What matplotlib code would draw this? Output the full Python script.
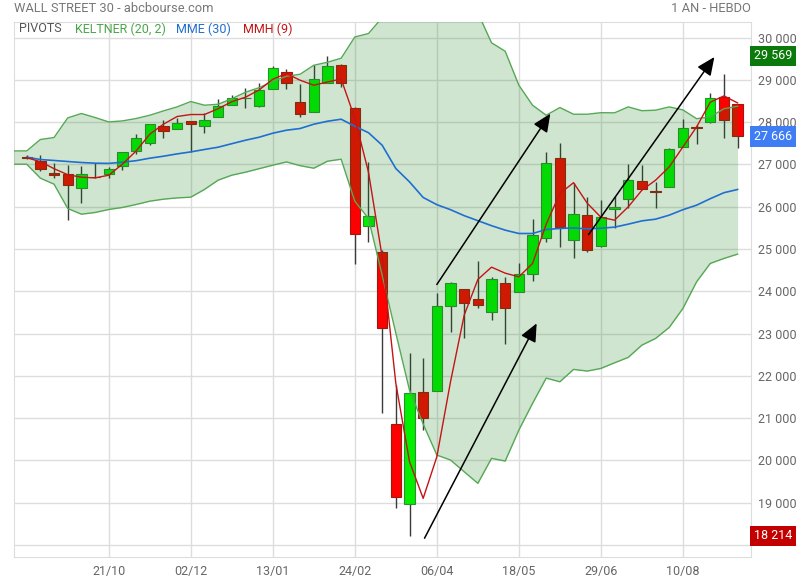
import matplotlib
matplotlib.use("Agg")
import matplotlib.pyplot as plt
import matplotlib.transforms as mtransforms
from matplotlib.ticker import FuncFormatter
import numpy as np

plt.rcParams['font.family'] = ['Roboto', 'DejaVu Sans']

# weekly candles, Dow Jones (WALL STREET 30), one year
opens = [27170, 27083, 26792, 26785, 26431, 26714, 26785, 26965, 27319, 27518,
         27920, 27849, 28038, 27915, 28123, 28416, 28565, 28383, 28795, 29196,
         28487, 28251, 28936, 29362, 28345, 25532, 24932, 20851, 18960, 21608,
         21639, 23641, 24043, 23807, 23513, 24185, 23986, 24397, 25263, 27163,
         25201, 25792, 25078, 25934, 26171, 26596, 26383, 26468, 27414, 27896,
         28005, 28589, 28423]
highs = [27211, 27211, 27022, 26981, 26958, 27045, 26941, 27289, 27714, 27951,
         28045, 28109, 28038, 28227, 28542, 28636, 28818, 28936, 29329, 29267,
         28896, 29345, 29569, 29386, 28360, 27052, 24982, 21781, 22530, 22426,
         23963, 24216, 24043, 24712, 24341, 24341, 24672, 25705, 27282, 27518,
         26563, 26232, 26154, 26260, 27005, 26981, 26580, 27400, 28085, 27927,
         28691, 29133, 28423]
lows = [27130, 26847, 26667, 25681, 26090, 26681, 26667, 26863, 27258, 27454,
        27627, 27849, 27296, 27745, 28123, 28416, 28345, 28360, 28795, 28795,
        28123, 28251, 28936, 28832, 24634, 25168, 21112, 18885, 18214, 20717,
        21639, 23041, 22899, 23613, 23317, 22743, 23986, 24246, 25168, 25036,
        24790, 24932, 25050, 25485, 25958, 26407, 25958, 26468, 27414, 27494,
        27981, 27627, 27390]
closes = [27160, 26880, 26752, 26502, 26762, 26691, 26903, 27282, 27613, 27944,
          27802, 27991, 27944, 28062, 28393, 28582, 28582, 28771, 29291, 28936,
          28204, 29031, 29338, 28936, 25343, 25783, 23121, 19125, 21584, 20993,
          23641, 24185, 23712, 23667, 24279, 23608, 24397, 25320, 27045, 25523,
          25816, 24965, 25764, 26000, 26627, 26407, 26350, 27376, 27873, 27863,
          28582, 28062, 27666]

mme30 = [27170, 27116, 27093, 27069, 27045, 27029, 27024, 27052, 27088, 27147,
         27194, 27249, 27296, 27353, 27407, 27490, 27572, 27643, 27738, 27809,
         27849, 27951, 28021, 28069, 27903, 27750, 27454, 26903, 26587, 26218,
         26048, 25929, 25788, 25669, 25551, 25445, 25366, 25366, 25461, 25485,
         25499, 25475, 25492, 25516, 25587, 25665, 25705, 25800, 25929, 26036,
         26189, 26331, 26407]
mmh9 = [27159, 27064, 26899, 26757, 26698, 26681, 26745, 27005, 27317, 27714,
        27951, 28133, 28180, 28180, 28317, 28483, 28589, 28761, 29014, 29149,
        28991, 28873, 28951, 29019, 28093, 26816, 24814, 21821, 19972, 19102,
        20086, 21859, 23435, 24279, 24570, 24428, 24341, 24657, 25587, 26312,
        26568, 26083, 25752, 25681, 25996, 26390, 26627, 26942, 27414, 27887,
        28471, 28620, 28454]

# Keltner (20, 2): starts one week before the first candle
kelt_up = [27319, 27319, 27589, 27636, 28100, 28204, 28109, 28005, 28029, 28085,
           28163, 28265, 28360, 28487, 28400, 28423, 28553, 28707, 28814, 28967,
           29085, 29133, 29345, 29416, 29511, 30014, 30095, 30470, 30900, 31300,
           31450, 31400, 31200, 30900, 30585, 29877, 29676, 28873, 28400, 28163,
           28345, 28187, 28187, 28223, 28220, 28360, 28270, 28282, 28360, 28289,
           28081, 28123, 28317, 28376]
kelt_lo = [27005, 27005, 26674, 26532, 25958, 25823, 25863, 25934, 25982, 26052,
           26130, 26178, 26208, 26225, 26407, 26627, 26745, 26816, 26899, 26981,
           27059, 26970, 26910, 27076, 27123, 26130, 25721, 24381, 23010, 21662,
           20859, 20126, 20008, 19731, 19457, 20048, 19984, 20717, 21348, 21946,
           21859, 22152, 22112, 22175, 22308, 22436, 22726, 22884, 23145, 23594,
           24223, 24658, 24776, 24878]

date_idx = [6, 12, 18, 24, 30, 36, 42, 48]
date_labels = ['21/10', '02/12', '13/01', '24/02', '06/04', '18/05', '29/06', '10/08']

# trend arrows: (x0, y0, x1, y1) in week index / price
arrows = [(30.0, 24160, 38.3, 28200),
          (29.1, 18160, 37.3, 23240),
          (41.1, 25340, 50.3, 29540)]

tags = [(29569, '#0b7a0b'), (27666, '#3f7df4'), (18214, '#c30000')]

grey = '#777777'
fig = plt.figure(figsize=(8, 5.8), dpi=100)
ax = fig.add_axes([14 / 800, 23 / 580, 737 / 800, 535.5 / 580])

x = np.arange(len(opens))
o = np.array(opens); c = np.array(closes)
up = c >= o
body_lo = np.minimum(o, c)
body_h = np.maximum(np.abs(c - o), 8)

ax.vlines(x, lows, highs, color='#3a3a3a', lw=1, zorder=2)
ax.bar(x[up], body_h[up], bottom=body_lo[up], width=0.76,
       color='#00f000', edgecolor='#2f8f2f', lw=0.8, zorder=2.5)
ax.bar(x[~up], body_h[~up], bottom=body_lo[~up], width=0.76,
       color='#ff0000', edgecolor='#9a1a10', lw=0.8, zorder=2.5)

xk = np.arange(-1, len(opens))
ax.fill_between(xk, kelt_lo, kelt_up, color='#147f14', alpha=0.2, lw=0, zorder=3)
ax.plot(xk, kelt_up, color='#55a855', lw=1, zorder=3.2)
ax.plot(xk, kelt_lo, color='#55a855', lw=1, zorder=3.2)
ax.plot(x, mme30, color='#1f6fd0', lw=1.2, zorder=3.4)
ax.plot(x, mmh9, color='#c41414', lw=1.0, zorder=3.5)

for x0, y0, x1, y1 in arrows:
    ax.annotate('', xy=(x1, y1), xytext=(x0, y0),
                arrowprops=dict(arrowstyle='-|>,head_length=1.0,head_width=0.45',
                                color='black', lw=1.1, shrinkA=0, shrinkB=0,
                                mutation_scale=11), zorder=4)

ax.set_xlim(-0.93, 52.98)
ax.set_ylim(17715, 30380)
ax.set_yticks(np.arange(18000, 30001, 1000))
ax.yaxis.tick_right()
# the 18 000 label sits under the low-price tag
ax.yaxis.set_major_formatter(FuncFormatter(
    lambda v, p: '' if v < 18500 else f"{int(v):,}".replace(',', ' ')))
ax.set_xticks(date_idx)
ax.set_xticklabels(date_labels)
ax.tick_params(length=0, labelsize=9, colors='#666666')
ax.tick_params(axis='y', pad=5)
ax.tick_params(axis='x', pad=6)
ax.grid(True, color='#dddddd', lw=1)
ax.set_axisbelow(True)
for s in ax.spines.values():
    s.set_color('#dddddd')

trans = mtransforms.blended_transform_factory(ax.transAxes, ax.transData)
for val, col in tags:
    ax.text(1.004, val, f"{val:,}".replace(',', ' '), transform=trans,
            ha='left', va='center', color='white', fontsize=9, zorder=10, clip_on=False,
            bbox=dict(boxstyle='square,pad=0.3', fc=col, ec='none'))

fig.text(14 / 800, 1 - 9 / 580, 'WALL STREET 30 - abcbourse.com', color=grey,
         fontsize=9.3, va='center', ha='left')
fig.text(751 / 800, 1 - 9 / 580, '1 AN - HEBDO', color=grey,
         fontsize=9.3, va='center', ha='right')

legend = [('PIVOTS', '#555555', 19), ('KELTNER (20, 2)', '#4aa54a', 75),
          ('MME (30)', '#1f6fd0', 176), ('MMH (9)', '#c41414', 243)]
for name, col, px in legend:
    fig.text(px / 800, 1 - 29 / 580, name, color=col, fontsize=9,
             va='center', ha='left')

fig.savefig('out.png', dpi=100)
